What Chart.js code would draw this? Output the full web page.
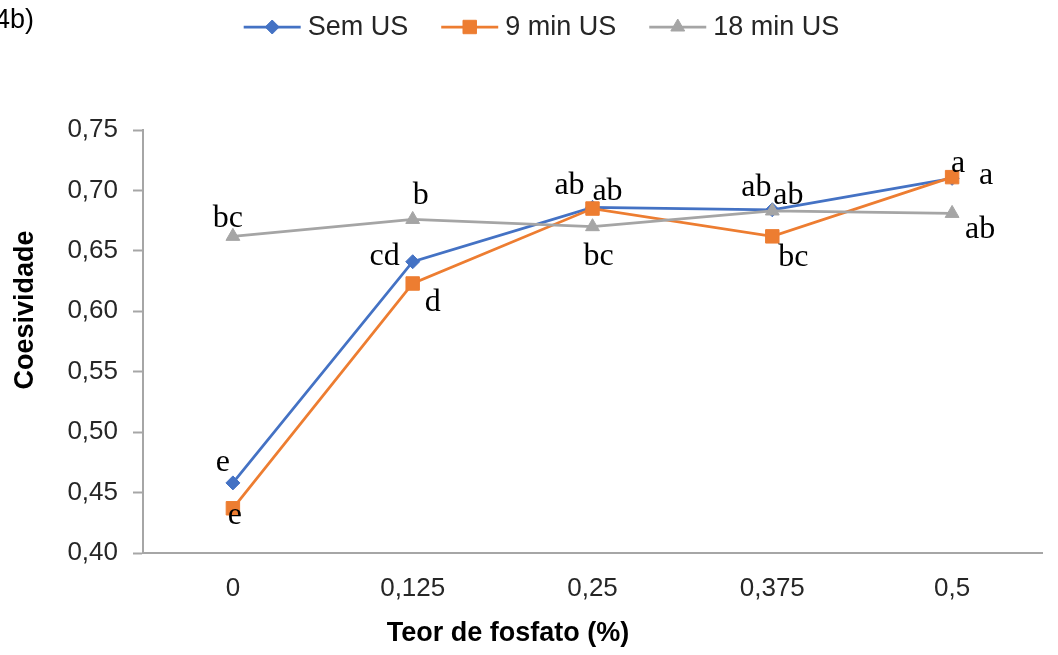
<!DOCTYPE html>
<html>
<head>
<meta charset="utf-8">
<script src="https://cdn.jsdelivr.net/npm/chart.js@4.4.1/dist/chart.umd.min.js"></script>
<style>
  html, body { margin: 0; padding: 0; background: #ffffff; }
  #wrap { width: 1058px; height: 655px; position: relative; }
</style>
</head>
<body>
<div id="wrap"><canvas id="grafico" width="1058" height="655"></canvas></div>
<script>
// Teor de fosfato (%) no eixo x
const categorias = ['0', '0,125', '0,25', '0,375', '0,5'];

// Coesividade por tratamento
const semUS    = [0.458, 0.641, 0.686, 0.684, 0.710];
const min9US   = [0.437, 0.623, 0.685, 0.662, 0.711];
const min18US  = [0.662, 0.676, 0.670, 0.683, 0.681];

// Letras do teste de médias
const letrasSemUS   = ['e', 'cd', 'ab', 'ab', 'a'];
const letras9US     = ['e', 'd', 'ab', 'bc', 'a'];
const letras18US    = ['bc', 'b', 'bc', 'ab', 'ab'];

// Escala do eixo y
const yMin = 0.40;
const yMax = 0.75;
const yPasso = 0.05;

const nomesSeries = ['Sem US', '9 min US', '18 min US'];

// Deslocamento (px) de cada letra em relação ao seu ponto
const posLetrasSemUS = [[-10, -20], [-28, -5], [-23, -22], [-16, -22], [6, -15]];
const posLetras9US   = [[2, 7], [20, 19], [15, -17], [21, 21], [34, -2]];
const posLetras18US  = [[-5, -18], [8, -24], [6, 30], [16, -15], [28, 16]];

const AZUL = '#4472C4', LARANJA = '#ED7D31', CINZA = '#A5A5A5';
const EIXO = '#A6A6A6';
const virgula = v => v.toFixed(2).replace('.', ',');

const letrasPlugin = {
  id: 'letras',
  afterDatasetsDraw(chart) {
    const ctx = chart.ctx;
    ctx.save();
    ctx.font = '32px "Liberation Serif", "Times New Roman", serif';
    ctx.fillStyle = '#000000';
    ctx.textAlign = 'center';
    ctx.textBaseline = 'middle';
    chart.data.datasets.forEach((ds, i) => {
      const meta = chart.getDatasetMeta(i);
      meta.data.forEach((pt, j) => {
        const [dx, dy] = ds.posLetras[j];
        ctx.fillText(ds.letras[j], pt.x + dx, pt.y + dy);
      });
    });
    ctx.restore();
  }
};

const legendaPlugin = {
  id: 'legendaLinha',
  afterDraw(chart) {
    const ctx = chart.ctx;
    ctx.save();
    ctx.font = '27px "Liberation Sans", Arial, sans-serif';
    const linha = 57, gapTexto = 7, gapItem = 33, y = 27;
    const larguras = chart.data.datasets.map(ds => ctx.measureText(ds.label).width);
    const total = larguras.reduce((s, w) => s + linha + gapTexto + w, 0) + gapItem * (larguras.length - 1);
    let x = 541.5 - total / 2;
    chart.data.datasets.forEach((ds, i) => {
      ctx.strokeStyle = ds.borderColor;
      ctx.lineWidth = ds.borderWidth;
      ctx.beginPath();
      ctx.moveTo(x, y);
      ctx.lineTo(x + linha, y);
      ctx.stroke();
      ctx.fillStyle = ds.pointBackgroundColor;
      ctx.strokeStyle = ds.pointBorderColor;
      ctx.lineWidth = 1;
      Chart.helpers.drawPoint(ctx, { pointStyle: ds.pointStyle, radius: ds.pointRadius, rotation: 0, borderWidth: 1 }, x + linha / 2, y);
      ctx.fillStyle = '#262626';
      ctx.textAlign = 'left';
      ctx.textBaseline = 'middle';
      ctx.fillText(ds.label, x + linha + gapTexto, y + 1);
      x += linha + gapTexto + larguras[i] + gapItem;
    });

    // Rótulo do painel e títulos dos eixos
    ctx.fillStyle = '#000000';
    ctx.textAlign = 'left';
    ctx.fillText('4b)', -5, 21);
    ctx.font = 'bold 27px "Liberation Sans", Arial, sans-serif';
    ctx.textAlign = 'center';
    ctx.fillText('Teor de fosfato (%)', 508, 634);
    ctx.translate(26, 310);
    ctx.rotate(-Math.PI / 2);
    ctx.fillText('Coesividade', 0, 0);
    ctx.restore();
  }
};

new Chart(document.getElementById('grafico'), {
  type: 'line',
  data: {
    labels: categorias,
    datasets: [
      {
        label: nomesSeries[0], data: semUS, letras: letrasSemUS, posLetras: posLetrasSemUS,
        borderColor: AZUL, backgroundColor: AZUL, pointBackgroundColor: AZUL, pointBorderColor: AZUL,
        borderWidth: 2.75, pointStyle: 'rectRot', pointRadius: 7, pointBorderWidth: 1, order: 3
      },
      {
        label: nomesSeries[1], data: min9US, letras: letras9US, posLetras: posLetras9US,
        borderColor: LARANJA, backgroundColor: LARANJA, pointBackgroundColor: LARANJA, pointBorderColor: LARANJA,
        borderWidth: 2.75, pointStyle: 'rect', pointRadius: 9.5, pointBorderWidth: 1, order: 2
      },
      {
        label: nomesSeries[2], data: min18US, letras: letras18US, posLetras: posLetras18US,
        borderColor: CINZA, backgroundColor: CINZA, pointBackgroundColor: CINZA, pointBorderColor: CINZA,
        borderWidth: 2.75, pointStyle: 'triangle', pointRadius: 8, pointBorderWidth: 1, order: 1
      }
    ]
  },
  options: {
    responsive: false,
    animation: false,
    devicePixelRatio: 1,
    elements: { line: { tension: 0 } },
    layout: { padding: { top: 130, right: 16, bottom: 0, left: 0 } },
    plugins: {
      legend: { display: false },
      tooltip: { enabled: false },
      title: { display: false }
    },
    scales: {
      x: {
        type: 'category',
        offset: true,
        grid: { display: false, drawTicks: false },
        border: { display: true, color: EIXO, width: 2 },
        ticks: {
          color: '#262626',
          padding: 20,
          font: { family: '"Liberation Sans", Arial, sans-serif', size: 26 }
        },
        afterFit(scale) { scale.height = 102; }
      },
      y: {
        min: yMin,
        max: yMax,
        grid: { drawOnChartArea: false, drawTicks: true, tickLength: 10, color: EIXO, tickColor: EIXO, tickWidth: 2 },
        border: { display: true, color: EIXO, width: 2 },
        ticks: {
          stepSize: yPasso,
          color: '#262626',
          padding: 15,
          font: { family: '"Liberation Sans", Arial, sans-serif', size: 26 },
          callback: v => virgula(v)
        },
        afterFit(scale) { scale.width = 143; }
      }
    }
  },
  plugins: [letrasPlugin, legendaPlugin]
});
</script>
</body>
</html>
